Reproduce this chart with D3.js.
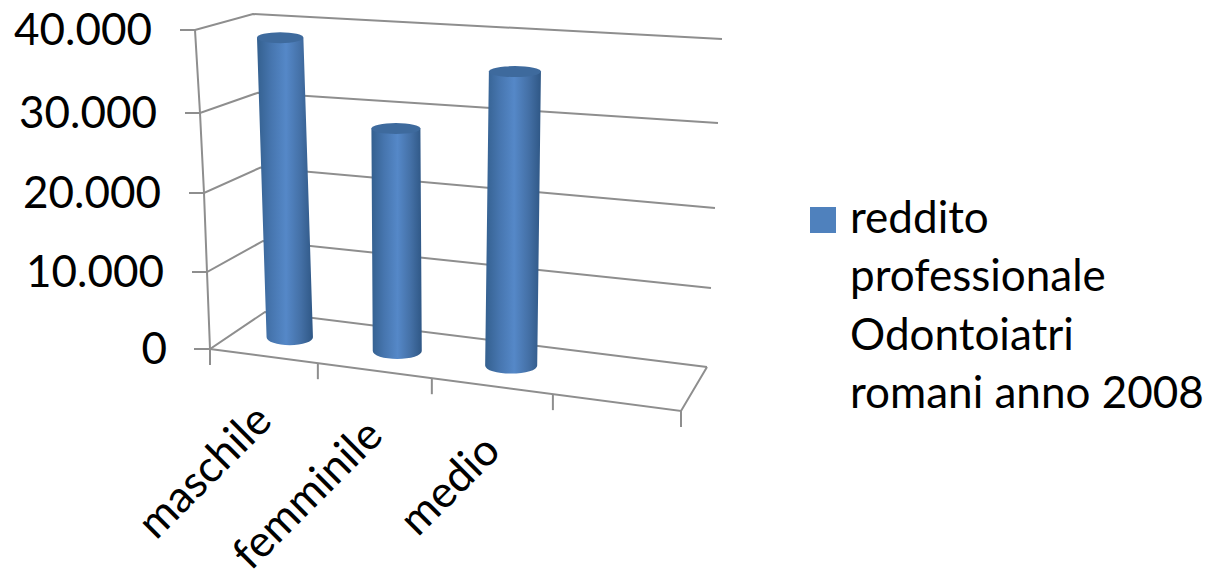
<!DOCTYPE html>
<html>
<head>
<meta charset="utf-8">
<script src="https://cdn.jsdelivr.net/npm/d3@7"></script>
<style>
  html, body { margin: 0; padding: 0; background: #fff; overflow: hidden; }
  text { font-family: Lato, "Open Sans", sans-serif; fill: #000; }
</style>
</head>
<body>
<div id="chart"></div>
<script>
// data
const categories = ["maschile", "femminile", "medio"];
const values = [38500, 28400, 36300];
const yTicks = [0, 10000, 20000, 30000, 40000];
const yTickLabels = ["0", "10.000", "20.000", "30.000", "40.000"];
const legendLines = ["reddito", "professionale", "Odontoiatri", "romani anno 2008"];
const slots = [0, 1, 2, 3, 4]; // four category slots, the last one is empty

const width = 1209, height = 569;

// the box corners, one scale per vertical edge of the 3d box
const edge = (xs, ys) => ({
    x: d3.scaleLinear().domain(yTicks).range(xs),
    y: d3.scaleLinear().domain(yTicks).range(ys)
});
const frontLeft = edge([210, 207, 204, 200, 195], [349, 272, 193, 113, 30]);
const backLeft = edge([265, 263, 260.5, 258, 253], [312, 241, 167.5, 92.7, 14]);
const backRight = edge([707, 711, 715, 718, 722], [367, 288, 208, 123, 39]);
const frontRight = edge([681, 685, 689, 693, 697], [411, 328, 243, 156, 66]);

// category slot -> position along the front edge (perspective makes them uneven)
const slotU = d3.scaleLinear().domain(slots).range([0, 0.229, 0.471, 0.728, 1]);

// u along x, w from front to back, v the value
function project(u, w, v) {
    let fx = d3.interpolateNumber(frontLeft.x(v), frontRight.x(v))(u),
        fy = d3.interpolateNumber(frontLeft.y(v), frontRight.y(v))(u),
        bx = d3.interpolateNumber(backLeft.x(v), backRight.x(v))(u),
        by = d3.interpolateNumber(backLeft.y(v), backRight.y(v))(u);
    return [fx + (bx - fx) * w, fy + (by - fy) * w];
}

let svg = d3.select("#chart")
    .append("svg")
        .attr("width", width)
        .attr("height", height);

let grad = svg.append("defs").append("linearGradient")
    .attr("id", "cyl")
    .attr("x1", 0).attr("x2", 1).attr("y1", 0).attr("y2", 0);
grad.append("stop").attr("offset", "0%").attr("stop-color", "#34608f");
grad.append("stop").attr("offset", "25%").attr("stop-color", "#4675ae");
grad.append("stop").attr("offset", "52%").attr("stop-color", "#5588c8");
grad.append("stop").attr("offset", "78%").attr("stop-color", "#4470a6");
grad.append("stop").attr("offset", "100%").attr("stop-color", "#2f5785");

const lineColor = "#8e8e8e";
let walls = svg.append("g")
    .attr("fill", "none")
    .attr("stroke", lineColor)
    .attr("stroke-width", 2);

let line = d3.line();

// gridlines on the side wall and back wall
walls.selectAll(".grid")
    .data(yTicks)
    .enter()
    .append("path")
        .attr("class", "grid")
        .attr("d", v => line([
            [frontLeft.x(v) - (v === 0 ? 16 : 15), frontLeft.y(v)],
            [frontLeft.x(v), frontLeft.y(v)],
            [backLeft.x(v), backLeft.y(v)],
            [backRight.x(v), backRight.y(v)]
        ]));

// value axis edge
walls.append("path")
    .attr("d", line(yTicks.map(v => [frontLeft.x(v), frontLeft.y(v)])));

// floor front edge and right edge
walls.append("path")
    .attr("d", line([
        [frontLeft.x(0), frontLeft.y(0)],
        [frontRight.x(0), frontRight.y(0)],
        [backRight.x(0), backRight.y(0)]
    ]));

// category ticks
walls.selectAll(".xtick")
    .data(slots)
    .enter()
    .append("path")
        .attr("class", "xtick")
        .attr("d", s => {
            let p = project(slotU(s), 0, 0);
            return line([p, [p[0], p[1] + 16]]);
        });

// y labels
svg.append("g").selectAll("text")
    .data(yTicks)
    .enter()
    .append("text")
        .attr("x", v => frontLeft.x(v) - 43)
        .attr("y", v => frontLeft.y(v))
        .attr("dy", "0.34em")
        .attr("text-anchor", "end")
        .attr("font-size", 44)
        .text((v, i) => yTickLabels[i]);

// cylinders
const rxShare = 0.215;
let bars = svg.append("g").selectAll("g")
    .data(categories.map((c, i) => ({ name: c, value: values[i], index: i })))
    .enter()
    .append("g");

function barGeom(d) {
    let u = slotU(d.index + 0.5);
    let base = project(u, 0.5, 0);
    let top = project(u, 0.5, d.value);
    let band = (slotU(d.index + 1) - slotU(d.index)) * (frontRight.x(0) - frontLeft.x(0));
    return { base, top, rx: band * rxShare };
}

const ryTop = 5.5, ryBase = 8;

bars.append("path")
    .attr("fill", "url(#cyl)")
    .attr("d", d => {
        let g = barGeom(d);
        return `M${g.top[0] - g.rx},${g.top[1]}` +
            `L${g.base[0] - g.rx},${g.base[1]}` +
            `A${g.rx},${ryBase} 0 0 0 ${g.base[0] + g.rx},${g.base[1]}` +
            `L${g.top[0] + g.rx},${g.top[1]}Z`;
    });

bars.append("ellipse")
    .attr("fill", "#3e6a9d")
    .attr("cx", d => barGeom(d).top[0])
    .attr("cy", d => barGeom(d).top[1])
    .attr("rx", d => barGeom(d).rx)
    .attr("ry", ryTop);

// category labels, rotated 45 degrees
svg.append("g").selectAll("text")
    .data(categories)
    .enter()
    .append("text")
        .attr("text-anchor", "end")
        .attr("font-size", 44)
        .attr("transform", (c, i) => {
            let p = project(slotU(i + 0.5), 0, 0);
            return `translate(${p[0] + 10},${p[1] + 67}) rotate(-45)`;
        })
        .text(c => c);

// legend
let legendY = d3.scalePoint().domain(d3.range(legendLines.length)).range([233, 408]);

svg.append("rect")
    .attr("x", 810)
    .attr("y", legendY(0) - 26)
    .attr("width", 26)
    .attr("height", 26)
    .attr("fill", "#4f81bd");

svg.append("g").selectAll("text")
    .data(legendLines)
    .enter()
    .append("text")
        .attr("x", 850)
        .attr("y", (d, i) => legendY(i))
        .attr("font-size", 44)
        .text(d => d);
</script>
</body>
</html>
